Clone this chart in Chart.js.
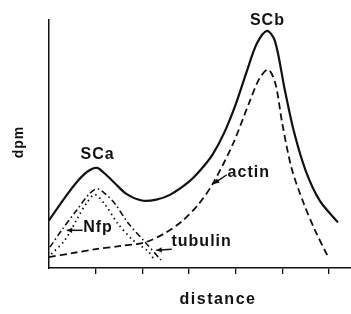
<!DOCTYPE html>
<html>
<head>
<meta charset="utf-8">
<script src="https://cdn.jsdelivr.net/npm/chart.js@4/dist/chart.umd.min.js"></script>
<style>
  html, body { margin: 0; padding: 0; background: #fff; }
  #wrap { width: 351px; height: 314px; }
</style>
</head>
<body>
<div id="wrap"><canvas id="c" width="351" height="314"></canvas></div>
<script>
// distance in tick units, dpm in arbitrary units (0-250)
const totalX = [0, 0.34, 0.62, 0.85, 1.03, 1.2, 1.4, 1.65, 1.99, 2.3, 2.6, 3.0, 3.25, 3.5, 3.75, 4.0, 4.25, 4.45, 4.67, 4.84, 5.05, 5.25, 5.5, 5.8, 6.19];
const totalY = [48, 71, 88, 98, 101, 95, 86, 75, 68, 69, 74, 87, 99, 114, 136, 165, 200, 226, 239, 229, 180, 137, 98, 68, 46];

const actinX = [0, 0.5, 1.0, 1.5, 2.06, 2.48, 2.87, 3.2, 3.51, 3.94, 4.3, 4.52, 4.7, 4.85, 5.0, 5.2, 5.45, 5.7, 5.97];
const actinY = [11, 15, 19, 22, 26, 35, 48, 64, 85, 125, 168, 192, 200, 186, 145, 100, 66, 38, 12];

const nfpX = [0.02, 0.27, 0.62, 0.85, 1.03, 1.2, 1.41, 1.7, 2.06, 2.4];
const nfpY = [21, 38, 60, 74, 80, 75, 65, 45, 26, 8];

const tubulinX = [0.05, 0.34, 0.62, 0.8, 0.98, 1.2, 1.47, 1.8, 2.12, 2.27];
const tubulinY = [14, 28, 51, 65, 74, 64, 45, 28, 17, 7];

const tickValues = [1, 2, 3, 4, 5, 6];

function pts(xs, ys) {
  return xs.map((x, i) => ({ x: x, y: ys[i] }));
}

const ink = '#111';

// text labels and arrows, placed in data units
const labels = [
  { text: 'SCa', x: 1.04, y: 114 },
  { text: 'SCb', x: 4.68, y: 249 },
  { text: 'actin', x: 4.28, y: 96, arrow: [3.81, 94, 3.53, 85] },
  { text: 'Nfp', x: 1.05, y: 41, arrow: [0.72, 38, 0.38, 38] },
  { text: 'tubulin', x: 3.27, y: 27, arrow: [2.63, 19, 2.3, 18] }
];

const notes = {
  id: 'notes',
  afterDraw(chart) {
    const ctx = chart.ctx;
    const xs = chart.scales.x, ys = chart.scales.y;
    ctx.save();
    ctx.fillStyle = ink;
    ctx.strokeStyle = ink;
    ctx.textAlign = 'center';
    ctx.textBaseline = 'middle';
    ctx.font = 'bold 16px "Liberation Sans", Arial, sans-serif';
    ctx.letterSpacing = '1px';
    labels.forEach(l => {
      ctx.fillText(l.text, xs.getPixelForValue(l.x), ys.getPixelForValue(l.y));
      if (l.arrow) {
        const x1 = xs.getPixelForValue(l.arrow[0]), y1 = ys.getPixelForValue(l.arrow[1]);
        const x2 = xs.getPixelForValue(l.arrow[2]), y2 = ys.getPixelForValue(l.arrow[3]);
        ctx.lineWidth = 1.5;
        ctx.beginPath();
        ctx.moveTo(x1, y1);
        ctx.lineTo(x2, y2);
        ctx.stroke();
        const a = Math.atan2(y2 - y1, x2 - x1);
        ctx.beginPath();
        ctx.moveTo(x2, y2);
        ctx.lineTo(x2 - 6 * Math.cos(a - 0.45), y2 - 6 * Math.sin(a - 0.45));
        ctx.lineTo(x2 - 6 * Math.cos(a + 0.45), y2 - 6 * Math.sin(a + 0.45));
        ctx.closePath();
        ctx.fill();
      }
    });
    // axis titles
    ctx.letterSpacing = '1.5px';
    ctx.fillText('distance', xs.getPixelForValue(3.62), ys.getPixelForValue(-32));
    ctx.font = 'bold 14px "Liberation Sans", Arial, sans-serif';
    ctx.letterSpacing = '1px';
    ctx.translate(xs.getPixelForValue(-0.64), ys.getPixelForValue(127));
    ctx.rotate(-Math.PI / 2);
    ctx.fillText('dpm', 0, 0);
    ctx.restore();
  }
};

const ctx = document.getElementById('c').getContext('2d');
const chart = new Chart(ctx, {
  type: 'line',
  data: {
    datasets: [
      { label: 'total', data: pts(totalX, totalY), borderColor: ink, borderWidth: 2.2 },
      { label: 'actin', data: pts(actinX, actinY), borderColor: ink, borderWidth: 1.8, borderDash: [7, 4] },
      { label: 'Nfp', data: pts(nfpX, nfpY), borderColor: ink, borderWidth: 1.6, borderDash: [6, 3, 1.5, 3] },
      { label: 'tubulin', data: pts(tubulinX, tubulinY), borderColor: ink, borderWidth: 1.8, borderDash: [1.5, 3.5] }
    ]
  },
  options: {
    responsive: false,
    animation: false,
    layout: { padding: { top: 20, right: 0, left: 0, bottom: 0 } },
    elements: {
      point: { radius: 0 },
      line: { tension: 0.3, fill: false }
    },
    plugins: { legend: { display: false }, tooltip: { enabled: false } },
    scales: {
      x: {
        type: 'linear',
        min: 0,
        max: 6.47,
        afterBuildTicks: s => { s.ticks = tickValues.map(v => ({ value: v })); },
        afterFit: s => { s.height = 46; },
        ticks: { callback: () => '', padding: 0 },
        grid: { drawOnChartArea: false, drawTicks: true, tickLength: 6, color: ink, lineWidth: 1.3 },
        border: { display: true, color: ink, width: 1.5 }
      },
      y: {
        min: 0,
        max: 250,
        afterFit: s => { s.width = 49; },
        ticks: { display: false },
        grid: { display: false },
        border: { display: true, color: ink, width: 1.5 }
      }
    }
  },
  plugins: [notes]
});
</script>
</body>
</html>
